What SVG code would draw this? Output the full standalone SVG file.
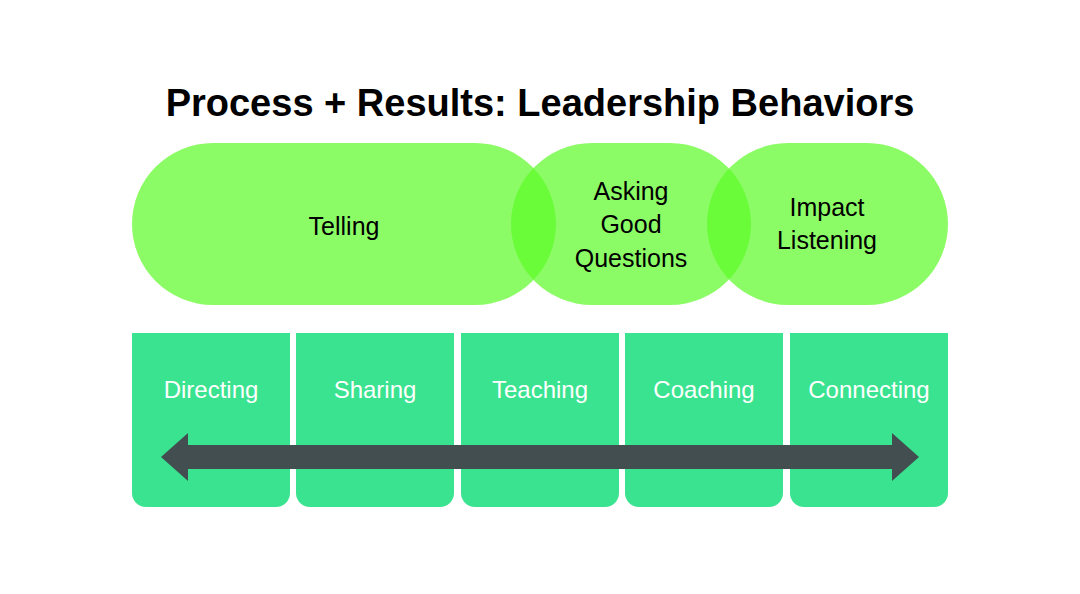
<svg xmlns="http://www.w3.org/2000/svg" width="1080" height="594" viewBox="0 0 1080 594">
<style>
.t{font-family:"Liberation Sans",Arial,sans-serif;text-anchor:middle}
.pill{fill:rgb(92,251,38);fill-opacity:0.704}
.lbl{font-size:25px;fill:#000}
.box{fill:#3ae38f}
.bl{font-size:24px;fill:#fff}
</style>
<rect width="1080" height="594" fill="#fff"/>
<text class="t" x="540" y="116" font-size="38" font-weight="bold">Process + Results: Leadership Behaviors</text>
<g id="telling"><rect class="pill" x="132" y="143" width="424" height="162" rx="81"/><text class="t lbl" x="344" y="235">Telling</text></g>
<g id="asking"><rect class="pill" x="511" y="143" width="240" height="162" rx="81"/><text class="t lbl" x="631" y="200">Asking</text><text class="t lbl" x="631" y="233">Good</text><text class="t lbl" x="631" y="267">Questions</text></g>
<g id="impact"><rect class="pill" x="707" y="143" width="241" height="162" rx="81"/><text class="t lbl" x="827" y="216">Impact</text><text class="t lbl" x="827" y="249">Listening</text></g>
<defs><path id="bx" class="box" d="M0,0H158V160a14,14 0 0 1 -14,14H14a14,14 0 0 1 -14,-14Z"/></defs>
<g id="directing"><use href="#bx" x="132" y="333"/><text class="t bl" x="211" y="398">Directing</text></g>
<g id="sharing"><use href="#bx" x="296" y="333"/><text class="t bl" x="375" y="398">Sharing</text></g>
<g id="teaching"><use href="#bx" x="461" y="333"/><text class="t bl" x="540" y="398">Teaching</text></g>
<g id="coaching"><use href="#bx" x="625" y="333"/><text class="t bl" x="704" y="398">Coaching</text></g>
<g id="connecting"><use href="#bx" x="790" y="333"/><text class="t bl" x="869" y="398">Connecting</text></g>
<g id="connectors"><path d="M161,457L188,433V445H892V433L919,457L892,481V469H188V481Z" fill="#434e51"/></g>
</svg>
